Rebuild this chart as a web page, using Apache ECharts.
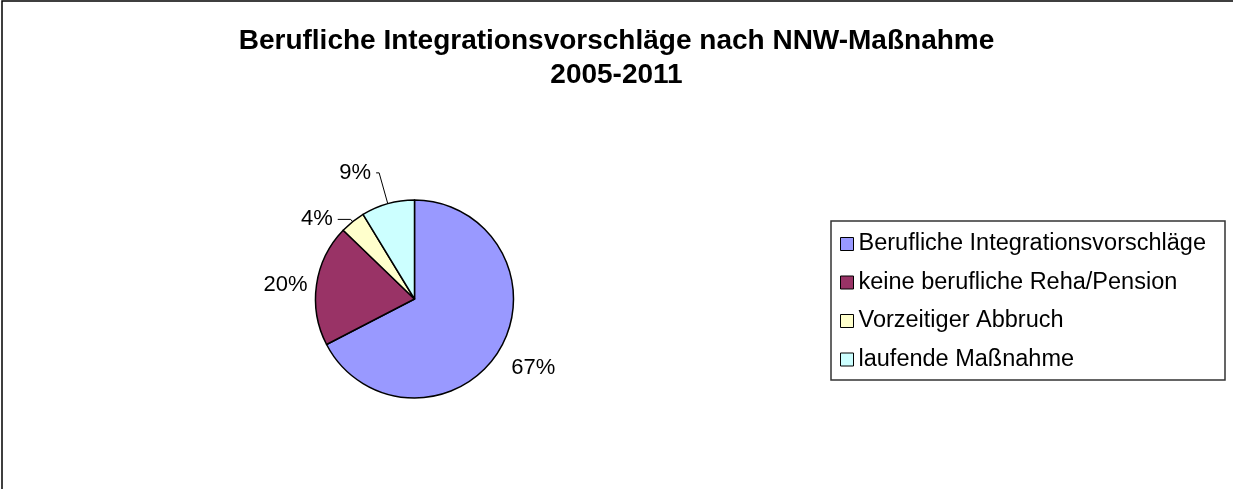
<!DOCTYPE html>
<html>
<head>
<meta charset="utf-8">
<script src="https://cdn.jsdelivr.net/npm/echarts@6/dist/echarts.min.js"></script>
<style>
html,body{margin:0;padding:0;background:#fff;}
#chart{width:1233px;height:489px;}
</style>
</head>
<body>
<div id="chart"></div>
<script>
const titleLines = ['Berufliche Integrationsvorschläge nach NNW-Maßnahme', '2005-2011'];
const categories = ['Berufliche Integrationsvorschläge', 'keine berufliche Reha/Pension', 'Vorzeitiger Abbruch', 'laufende Maßnahme'];
const shares = [67.4, 19.8, 4.1, 8.7];
const colors = ['#9999FF', '#993366', '#FFFFCC', '#CCFFFF'];

// label placement per slice (leader line lengths; line shown only for small slices)
const labelLines = [
  { show: false, length: 12, length2: 0 },
  { show: false, length: 0, length2: 4 },
  { show: true, length: 3, length2: 13 },
  { show: true, length: 32, length2: 3 }
];

const FONT = '"Liberation Sans", Arial, sans-serif';

const chart = echarts.init(document.getElementById('chart'), null, { renderer: 'canvas' });

const data = categories.map((name, i) => ({
  name: name,
  value: shares[i],
  itemStyle: { color: colors[i] },
  labelLine: Object.assign({ lineStyle: { color: '#000', width: 1 } }, labelLines[i])
}));

chart.setOption({
  backgroundColor: '#ffffff',
  animation: false,
  title: {
    text: titleLines.join('\n'),
    left: 'center',
    top: 24,
    padding: 0,
    textStyle: {
      fontFamily: FONT,
      fontSize: 28,
      fontWeight: 'bold',
      color: '#000',
      lineHeight: 34
    }
  },
  legend: {
    orient: 'vertical',
    left: 840,
    top: 232,
    padding: 0,
    itemWidth: 13,
    itemHeight: 13,
    itemGap: 14.5,
    icon: 'rect',
    selectedMode: false,
    itemStyle: { borderColor: '#000', borderWidth: 1 },
    textStyle: { fontFamily: FONT, fontSize: 23.5, color: '#000', lineHeight: 22 },
    data: categories
  },
  graphic: [
    {
      type: 'rect',
      silent: true,
      shape: { x: 2, y: 1, width: 1400, height: 700 },
      style: { fill: 'none', stroke: '#000', lineWidth: 1.5 }
    },
    {
      type: 'rect',
      silent: true,
      shape: { x: 831, y: 221, width: 394, height: 159 },
      style: { fill: 'none', stroke: '#333', lineWidth: 1.5 }
    }
  ],
  series: [{
    type: 'pie',
    center: [414.5, 299],
    radius: 99,
    startAngle: 90,
    clockwise: true,
    avoidLabelOverlap: false,
    itemStyle: { borderColor: '#000', borderWidth: 1.5 },
    emphasis: { disabled: true },
    label: {
      show: true,
      position: 'outside',
      fontFamily: FONT,
      fontSize: 22,
      color: '#000',
      formatter: p => Math.round(p.percent) + '%'
    },
    labelLayout: function (params) {
      if (params.dataIndex === 0) { return { dy: 11, dx: -3 }; }
      return {};
    },
    data: data
  }]
});
</script>
</body>
</html>
